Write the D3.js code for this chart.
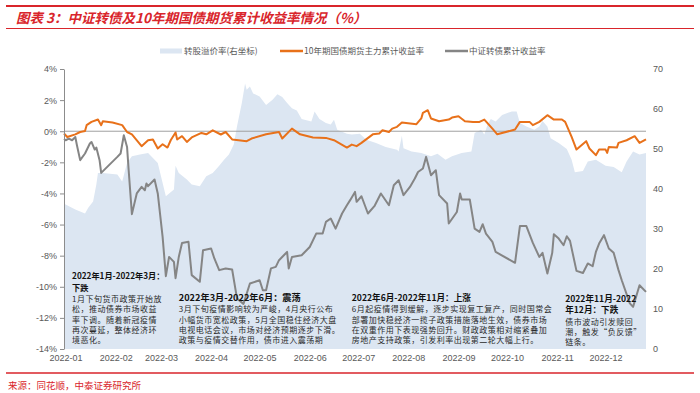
<!DOCTYPE html>
<html>
<head>
<meta charset="utf-8">
<script src="https://cdn.jsdelivr.net/npm/d3@7"></script>
<style>
body { margin: 0; background: #fff; }
svg text { font-family: "Liberation Sans", Arial, sans-serif; }
.cjk { font-family: "Noto Sans CJK SC", sans-serif; }
</style>
</head>
<body>
<svg id="chart" width="700" height="393"></svg>
<script>
// 转股溢价率 (right axis)
const premium = [
  ["01-04", 36.3], ["01-05", 36.1], ["01-11", 34.9], ["01-17", 33.9], ["01-19", 35.3], ["01-22", 36.9],
  ["01-24", 41.1], ["01-25", 44.0], ["01-28", 44.0], ["02-06", 43.6], ["02-09", 41.9], ["02-12", 46.5],
  ["02-15", 48.2], ["02-20", 48.6], ["02-25", 49.0], ["03-03", 46.5], ["03-08", 38.2], ["03-13", 39.9],
  ["03-14", 45.8], ["03-16", 44.0], ["03-21", 42.4], ["03-24", 41.1], ["03-29", 40.7], ["04-02", 43.2],
  ["04-06", 44.0], ["04-10", 45.8], ["04-13", 47.3], ["04-16", 48.6], ["04-19", 51.1], ["04-21", 55.6],
  ["04-24", 61.5], ["04-26", 66.4], ["04-27", 64.8], ["04-29", 65.6], ["05-01", 63.9], ["05-05", 63.1],
  ["05-09", 61.0], ["05-13", 62.3], ["05-16", 63.7], ["05-19", 63.0], ["05-22", 61.5], ["05-25", 60.2],
  ["05-28", 59.6], ["05-31", 57.5], ["06-06", 56.9], ["06-08", 59.4], ["06-11", 57.5], ["06-15", 56.5],
  ["06-18", 56.1], ["06-20", 57.3], ["06-22", 54.8], ["06-28", 53.8], ["07-01", 53.6], ["07-06", 53.8],
  ["07-10", 52.3], ["07-16", 51.5], ["07-22", 50.5], ["07-29", 49.8], ["07-30", 49.4], ["08-01", 53.3],
  ["08-02", 50.2], ["08-07", 49.4], ["08-13", 49.0], ["08-19", 48.2], ["08-23", 48.8], ["08-28", 47.3],
  ["09-01", 48.2], ["09-07", 49.0], ["09-13", 49.4], ["09-15", 54.0], ["09-19", 54.8], ["09-21", 53.6],
  ["09-23", 56.1], ["09-25", 57.5], ["09-28", 56.9], ["10-02", 58.5], ["10-08", 59.4], ["10-11", 59.4],
  ["10-13", 56.5], ["10-17", 55.6], ["10-22", 54.8], ["10-25", 55.6], ["10-27", 57.0], ["10-30", 55.6],
  ["11-01", 52.7], ["11-06", 51.5], ["11-11", 50.0], ["11-14", 47.3], ["11-16", 44.2], ["11-21", 44.5],
  ["11-24", 46.9], ["11-29", 47.3], ["12-05", 45.8], ["12-10", 45.5], ["12-15", 44.2], ["12-18", 46.9],
  ["12-22", 49.4], ["12-26", 48.6], ["12-30", 49.0]
];

// 10年期国债期货主力累计收益率 (%)
const bondFutures = [
  ["01-04", -0.15], ["01-06", -0.37], ["01-11", -0.2], ["01-14", -0.05], ["01-17", 0.02], ["01-18", 0.39],
  ["01-21", 0.6], ["01-25", 0.75], ["01-27", 0.39], ["01-28", 0.64], ["02-03", 0.56], ["02-09", 0.39],
  ["02-12", -0.05], ["02-15", -0.2], ["02-21", -0.96], ["02-25", -0.58], ["02-28", -0.53], ["03-03", -1.11],
  ["03-06", -0.84], ["03-09", -1.05], ["03-11", -0.58], ["03-14", -0.08], ["03-15", -0.53], ["03-18", -0.32],
  ["03-21", -0.69], ["03-24", -0.4], ["03-30", -0.11], ["04-02", -0.2], ["04-06", 0.06], ["04-11", -0.21],
  ["04-14", -0.05], ["04-18", -0.53], ["04-22", -0.58], ["04-27", -0.64], ["04-30", -0.47], ["05-09", -0.2],
  ["05-17", -0.05], ["05-19", -0.47], ["05-25", 0.17], ["05-30", -0.2], ["06-07", -0.4], ["06-15", -0.43],
  ["06-20", -0.58], ["06-28", -1.05], ["07-01", -0.86], ["07-04", -0.96], ["07-07", -0.75], ["07-14", -0.2],
  ["07-18", -0.15], ["07-20", 0.06], ["07-24", -0.05], ["07-26", 0.17], ["07-29", 0.28], ["08-01", 0.56],
  ["08-10", 0.45], ["08-13", 0.82], ["08-14", 1.18], ["08-17", 1.35], ["08-19", 0.82], ["08-24", 0.64],
  ["08-30", 0.75], ["09-01", 0.88], ["09-05", 0.96], ["09-09", 0.64], ["09-14", 0.6], ["09-18", 0.6],
  ["09-21", 0.75], ["09-26", 0.17], ["09-29", -0.2], ["10-10", 0.11], ["10-13", 0.6], ["10-19", 0.6],
  ["10-21", 0.39], ["10-25", 0.6], ["10-30", 1.03], ["11-03", 0.75], ["11-08", 0.75], ["11-10", 0.6],
  ["11-14", -0.37], ["11-17", -1.18], ["11-23", -0.64], ["11-25", -1.11], ["11-29", -1.54], ["12-01", -1.18],
  ["12-05", -1.18], ["12-06", -1.39], ["12-07", -1.01], ["12-12", -1.05], ["12-13", -0.75], ["12-18", -0.58],
  ["12-23", -0.32], ["12-26", -0.75], ["12-30", -0.53]
];

// 中证转债累计收益率 (%)
const convertible = [
  ["01-04", -0.5], ["01-05", -0.58], ["01-07", -0.47], ["01-09", -0.58], ["01-11", -0.37], ["01-12", -0.9],
  ["01-14", -1.86], ["01-17", -1.43], ["01-20", -0.79], ["01-21", -0.69], ["01-23", -1.18], ["01-24", -1.05],
  ["01-26", -1.86], ["01-27", -2.68], ["02-06", -1.65], ["02-08", -1.43], ["02-10", -0.26], ["02-12", -1.01],
  ["02-13", -2.51], ["02-15", -5.33], ["02-18", -4.0], ["02-21", -3.58], ["02-23", -3.79], ["02-24", -3.36],
  ["02-25", -3.53], ["03-01", -3.1], ["03-03", -4.0], ["03-06", -6.79], ["03-08", -9.32], ["03-10", -8.08],
  ["03-13", -8.4], ["03-14", -9.45], ["03-16", -8.08], ["03-18", -7.18], ["03-22", -7.11], ["03-24", -9.25],
  ["03-29", -9.68], ["03-31", -7.65], ["04-05", -7.54], ["04-07", -8.18], ["04-10", -8.93], ["04-14", -8.82],
  ["04-18", -8.89], ["04-21", -10.75], ["04-25", -11.1], ["04-29", -9.79], ["05-05", -9.58], ["05-07", -10.22],
  ["05-09", -10.22], ["05-12", -8.82], ["05-15", -8.72], ["05-17", -8.29], ["05-20", -7.97], ["05-22", -7.76],
  ["05-23", -8.82], ["05-25", -8.08], ["05-31", -7.97], ["06-05", -7.44], ["06-09", -6.58], ["06-13", -6.58],
  ["06-15", -5.83], ["06-18", -5.61], ["06-21", -6.26], ["06-25", -5.29], ["06-28", -4.76], ["06-30", -4.43],
  ["07-03", -3.9], ["07-04", -4.54], ["07-07", -4.18], ["07-11", -5.29], ["07-15", -4.82], ["07-19", -4.0],
  ["07-24", -4.76], ["07-27", -3.47], ["07-30", -3.15], ["08-02", -4.11], ["08-06", -3.58], ["08-09", -3.04],
  ["08-11", -2.62], ["08-14", -2.4], ["08-16", -1.65], ["08-19", -2.83], ["08-22", -2.51], ["08-24", -4.11],
  ["08-29", -4.65], ["08-30", -5.93], ["09-04", -5.19], ["09-06", -4.0], ["09-07", -4.39], ["09-12", -4.39],
  ["09-15", -6.26], ["09-18", -6.47], ["09-20", -5.98], ["09-22", -6.58], ["09-26", -7.11], ["09-28", -7.76],
  ["10-10", -8.46], ["10-13", -6.1], ["10-17", -6.1], ["10-21", -7.18], ["10-25", -8.08], ["10-27", -7.82],
  ["10-30", -9.15], ["11-02", -7.82], ["11-03", -6.62], ["11-06", -6.9], ["11-09", -7.33], ["11-11", -6.75],
  ["11-13", -7.05], ["11-17", -8.98], ["11-21", -9.11], ["11-24", -8.5], ["11-27", -8.68], ["11-29", -7.76],
  ["12-01", -7.22], ["12-04", -6.68], ["12-07", -7.54], ["12-10", -7.82], ["12-13", -8.93], ["12-15", -9.58],
  ["12-20", -11.07], ["12-22", -11.29], ["12-26", -9.9], ["12-30", -10.33]
];

const leftTicks = d3.range(-14, 5, 2);
const rightTicks = d3.range(0, 71, 10);
const monthTicks = ["01-05", "02-05", "03-05", "04-05", "05-05", "06-05", "07-05", "08-05", "09-05", "10-05", "11-05", "12-05"];
const legendLabels = ["转股溢价率(右坐标)", "10年期国债期货主力累计收益率", "中证转债累计收益率"];

const annotations = [
  { at: ["01-09", -9.33], title: ["2022年1月-2022年3月：", "下跌"], titleSize: 8.2,
    body: ["1月下旬货币政策开始放", "松，推动债券市场收益", "率下调。随着新冠疫情", "再次蔓延，整体经济环", "境恶化。"] },
  { at: ["03-16", -10.72], title: ["2022年3月-2022年6月：震荡"], titleSize: 9.2,
    body: ["3月下旬疫情影响较为严峻，4月央行公布", "小幅货币宽松政策，5月全国稳住经济大盘", "电视电话会议，市场对经济预期逐步下滑。", "政策与疫情交替作用，债市进入震荡期"] },
  { at: ["07-01", -10.72], title: ["2022年6月-2022年11月：上涨"], titleSize: 8.6,
    body: ["6月起疫情得到缓解，逐步实现复工复产，同时国常会", "部署加快稳经济一揽子政策措施落地生效，债券市场", "在双重作用下表现强势回升。财政政策相对缩紧叠加", "房地产支持政策，引发利率出现第二轮大幅上行。"] },
  { at: ["11-10", -10.78], title: ["2022年11月-2022", "年12月：下跌"], titleSize: 8.6,
    body: ["债市波动引发赎回", "潮，触发“负反馈”", "链条。"] }
];

const parse = d3.timeParse("%Y-%m-%d");
const day = s => parse("2022-" + s);

const svg = d3.select("#chart");
const red = "#d9252b";
const axisGray = "#8c8c8c";
const labelGray = "#595959";

const x = d3.scaleTime().domain([day("01-04"), day("12-30")]).range([64, 646]);
const yL = d3.scaleLinear().domain([-14, 4]).range([349, 69]);
const yR = d3.scaleLinear().domain([0, 70]).range([349, 69]);

// header and footer
svg.append("line").attr("x1", 6).attr("x2", 694).attr("y1", 6).attr("y2", 6)
  .attr("stroke", red).attr("stroke-width", 2);
svg.append("text").attr("class", "cjk")
  .attr("x", 16).attr("y", 18).attr("dy", "0.35em")
  .attr("fill", red).attr("font-size", 13.5).attr("font-weight", "bold").attr("font-style", "italic")
  .text("图表 3：中证转债及10年期国债期货累计收益率情况（%）");
svg.append("line").attr("x1", 6).attr("x2", 694).attr("y1", 28.5).attr("y2", 28.5)
  .attr("stroke", red).attr("stroke-width", 1.2);

svg.append("line").attr("x1", 6).attr("x2", 694).attr("y1", 373).attr("y2", 373)
  .attr("stroke", red).attr("stroke-width", 1.5);
svg.append("text").attr("class", "cjk")
  .attr("x", 8).attr("y", 386).attr("dy", "0.35em")
  .attr("fill", red).attr("font-size", 9.5)
  .text("来源：同花顺，中泰证券研究所");

// premium area
svg.append("path")
  .datum(premium)
  .attr("fill", "#dce6f2")
  .attr("d", d3.area()
    .x(d => x(day(d[0])))
    .y0(yR(0))
    .y1(d => yR(d[1])));

// zero line
svg.append("line")
  .attr("x1", x.range()[0]).attr("x2", x.range()[1])
  .attr("y1", yL(0)).attr("y2", yL(0))
  .attr("stroke", "#a0a0a0").attr("stroke-width", 1);

const line = d3.line().x(d => x(day(d[0]))).y(d => yL(d[1]));

svg.append("path").datum(convertible)
  .attr("fill", "none").attr("stroke", "#858585").attr("stroke-width", 2)
  .attr("stroke-linejoin", "round").attr("d", line);

svg.append("path").datum(bondFutures)
  .attr("fill", "none").attr("stroke", "#e8711a").attr("stroke-width", 2)
  .attr("stroke-linejoin", "round").attr("d", line);

// axes
const gl = svg.append("g")
  .attr("transform", `translate(${x.range()[0]},0)`)
  .call(d3.axisLeft(yL).tickValues(leftTicks).tickSize(4).tickSizeOuter(0).tickPadding(3)
    .tickFormat(d => d + "%"));
gl.select(".domain").attr("stroke", axisGray);
gl.selectAll(".tick line").attr("stroke", axisGray);
gl.selectAll("text").attr("fill", labelGray).attr("font-size", 9);

const gr = svg.append("g")
  .attr("transform", `translate(${x.range()[1]},0)`)
  .call(d3.axisRight(yR).tickValues(rightTicks).tickSize(0).tickPadding(7));
gr.select(".domain").remove();
gr.selectAll("text").attr("fill", labelGray).attr("font-size", 9);

const gb = svg.append("g")
  .attr("transform", "translate(0,350)")
  .call(d3.axisBottom(x).tickValues(monthTicks.map(day)).tickSize(0).tickPadding(4.5)
    .tickFormat(d3.timeFormat("%Y-%m")));
gb.select(".domain").remove();
gb.selectAll("text").attr("fill", labelGray).attr("font-size", 9);

// legend
const legend = svg.append("g").attr("class", "cjk");
const legendX = [160, 280, 445];
legend.append("rect").attr("x", legendX[0]).attr("y", 48.5).attr("width", 22).attr("height", 5).attr("fill", "#dce6f2");
legend.append("line").attr("x1", legendX[1]).attr("x2", legendX[1] + 23).attr("y1", 51).attr("y2", 51)
  .attr("stroke", "#e8711a").attr("stroke-width", 2.5);
legend.append("line").attr("x1", legendX[2]).attr("x2", legendX[2] + 23).attr("y1", 51).attr("y2", 51)
  .attr("stroke", "#858585").attr("stroke-width", 2.5);
legend.selectAll("text.lg")
  .data(legendLabels)
  .join("text")
  .attr("class", "lg cjk")
  .attr("x", (d, i) => legendX[i] + 24)
  .attr("y", 51).attr("dy", "0.35em")
  .attr("fill", labelGray).attr("font-size", 8.5)
  .text(d => d);

// annotations
const titleStep = 11.5;
const bodyStep = 10.3;
annotations.forEach(a => {
  const ax = x(day(a.at[0]));
  const ay = yL(a.at[1]);
  const g = svg.append("g").attr("class", "cjk");
  a.title.forEach((t, i) => {
    g.append("text").attr("class", "cjk")
      .attr("x", ax).attr("y", ay + i * titleStep).attr("dy", "0.35em")
      .attr("font-size", a.titleSize).attr("font-weight", "bold").attr("fill", "#111")
      .text(t);
  });
  const top = ay + a.title.length * titleStep;
  a.body.forEach((t, i) => {
    g.append("text").attr("class", "cjk")
      .attr("x", ax).attr("y", top + i * bodyStep).attr("dy", "0.35em")
      .attr("font-size", 8).attr("letter-spacing", 0.5).attr("fill", "#2a2a2a")
      .text(t);
  });
});
</script>
</body>
</html>
